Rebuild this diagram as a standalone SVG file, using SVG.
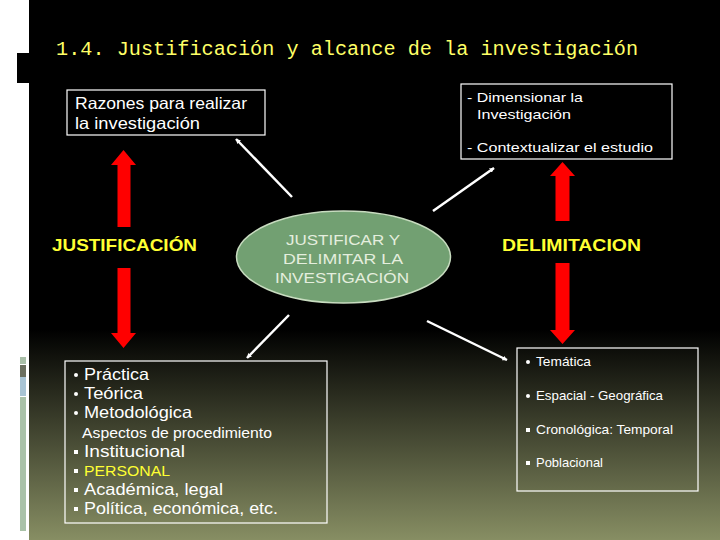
<svg xmlns="http://www.w3.org/2000/svg" width="720" height="540" viewBox="0 0 720 540">
<defs>
<linearGradient id="bg" x1="0" y1="0" x2="0" y2="540" gradientUnits="userSpaceOnUse">
<stop offset="0" stop-color="#000"/>
<stop offset="0.61" stop-color="#000"/>
<stop offset="1" stop-color="#878e63"/>
</linearGradient>
<marker id="wa" viewBox="0 0 10 10" refX="9" refY="5" markerWidth="5" markerHeight="5" orient="auto" markerUnits="userSpaceOnUse">
<path d="M0,0 L10,5 L0,10 z" fill="#fff"/>
</marker>
<style>
.t{font-family:"Liberation Sans",Arial,sans-serif;fill:#fff}
.box{fill:none;stroke:#fff;stroke-width:1.2}
.red{fill:#f00}
.wl{stroke:#fff;stroke-width:2.5;marker-end:url(#wa)}
.lbl{font-family:"Liberation Sans",Arial,sans-serif;font-weight:bold;fill:#ffff33;font-size:17px}
</style>
</defs>
<rect width="720" height="540" fill="#fff"/>
<rect x="29" y="0" width="691" height="540" fill="url(#bg)"/>
<rect x="17" y="53" width="12" height="30" fill="#000"/>
<rect x="20" y="357" width="6" height="7" fill="#a9bfa8"/>
<rect x="20" y="365" width="6" height="12" fill="#6b6f5f"/>
<rect x="20" y="377" width="6" height="19" fill="#a8c4d4"/>
<rect x="20" y="397" width="6" height="134" fill="#a9c2a8"/>
<text x="56" y="55" font-family="Liberation Mono,monospace" font-size="20" fill="#ffff66" textLength="582" lengthAdjust="spacingAndGlyphs">1.4. Justificación y alcance de la investigación</text>

<g id="razones">
<rect class="box" x="67" y="90" width="198" height="45"/>
<text class="t" x="75" y="109" font-size="16.5" textLength="172" lengthAdjust="spacingAndGlyphs">Razones para realizar</text>
<text class="t" x="75" y="129" font-size="16.5" textLength="125" lengthAdjust="spacingAndGlyphs">la investigación</text>
</g>
<g id="dimensionar">
<rect class="box" x="461" y="84" width="211" height="75"/>
<text class="t" x="467" y="102" font-size="13.5" textLength="116" lengthAdjust="spacingAndGlyphs">- Dimensionar la</text>
<text class="t" x="477" y="119" font-size="13.5" textLength="94" lengthAdjust="spacingAndGlyphs">Investigación</text>
<text class="t" x="467" y="152" font-size="13.5" textLength="186" lengthAdjust="spacingAndGlyphs">- Contextualizar el estudio</text>
</g>
<g id="centro">
<ellipse cx="343.5" cy="257" rx="107" ry="46" fill="#72a072" stroke="#c8dcc0" stroke-width="1.5"/>
<text x="286" y="245" font-family="Liberation Sans,Arial,sans-serif" font-size="15.5" fill="#e4eede" textLength="114" lengthAdjust="spacingAndGlyphs">JUSTIFICAR Y</text>
<text x="283" y="264" font-family="Liberation Sans,Arial,sans-serif" font-size="15.5" fill="#e4eede" textLength="120" lengthAdjust="spacingAndGlyphs">DELIMITAR LA</text>
<text x="275" y="283" font-family="Liberation Sans,Arial,sans-serif" font-size="15.5" fill="#e4eede" textLength="134" lengthAdjust="spacingAndGlyphs">INVESTIGACIÓN</text>
</g>
<g id="justificacion">
<text class="lbl" x="52" y="251" textLength="145" lengthAdjust="spacingAndGlyphs">JUSTIFICACIÓN</text>
</g>
<g id="delimitacion">
<text class="lbl" x="502" y="251" textLength="139" lengthAdjust="spacingAndGlyphs">DELIMITACION</text>
</g>
<g id="justif-list">
<rect class="box" x="65" y="361" width="262" height="162"/>
<g class="t" font-size="16.5">
<circle cx="76" cy="375" r="2" fill="#fff"/><text x="84" y="380" textLength="65" lengthAdjust="spacingAndGlyphs">Práctica</text>
<circle cx="76" cy="394" r="2" fill="#fff"/><text x="84" y="399" textLength="59" lengthAdjust="spacingAndGlyphs">Teórica</text>
<circle cx="76" cy="413" r="2" fill="#fff"/><text x="84" y="418" textLength="108" lengthAdjust="spacingAndGlyphs">Metodológica</text>
<text x="82" y="438" font-size="14.5" textLength="190" lengthAdjust="spacingAndGlyphs">Aspectos de procedimiento</text>
<rect x="74" y="450" width="4" height="4" fill="#fff"/><text x="84" y="457" textLength="101" lengthAdjust="spacingAndGlyphs">Institucional</text>
<rect x="74" y="469" width="4" height="4" fill="#fff"/><text x="84" y="476" fill="#ffff33" font-size="15.5" textLength="86" lengthAdjust="spacingAndGlyphs">PERSONAL</text>
<rect x="74" y="488" width="4" height="4" fill="#fff"/><text x="84" y="495" textLength="139" lengthAdjust="spacingAndGlyphs">Académica,  legal</text>
<rect x="74" y="507" width="4" height="4" fill="#fff"/><text x="84" y="514" textLength="194" lengthAdjust="spacingAndGlyphs">Política, económica, etc.</text>
</g>
</g>
<g id="delim-list">
<rect class="box" x="517" y="348" width="181" height="143"/>
<g class="t" font-size="13.5">
<circle cx="528" cy="362" r="2" fill="#fff"/><text x="536" y="366" textLength="55" lengthAdjust="spacingAndGlyphs">Temática</text>
<circle cx="528" cy="396" r="2" fill="#fff"/><text x="536" y="400" textLength="127" lengthAdjust="spacingAndGlyphs">Espacial - Geográfica</text>
<rect x="526" y="428" width="4" height="4" fill="#fff"/><text x="536" y="434" textLength="137" lengthAdjust="spacingAndGlyphs">Cronológica: Temporal</text>
<rect x="526" y="461" width="4" height="4" fill="#fff"/><text x="536" y="467" textLength="67" lengthAdjust="spacingAndGlyphs">Poblacional</text>
</g>
</g>
<g id="connectors">
<path class="red" d="M123.5,150 L136,165 L130.5,165 L130.5,227 L117.5,227 L117.5,165 L111,165 Z"/>
<path class="red" d="M123.5,348 L136,333 L130.5,333 L130.5,268 L117.5,268 L117.5,333 L111,333 Z"/>
<path class="red" d="M562.5,162 L575,176 L569.5,176 L569.5,221 L555.5,221 L555.5,176 L550,176 Z"/>
<path class="red" d="M562.5,344 L575,330 L569.5,330 L569.5,263 L555.5,263 L555.5,330 L550,330 Z"/>
<line class="wl" x1="292" y1="197" x2="236" y2="139"/>
<line class="wl" x1="433" y1="211" x2="494" y2="168"/>
<line class="wl" x1="289" y1="315" x2="247" y2="358"/>
<line class="wl" x1="427" y1="321" x2="507" y2="360"/>
</g>
</svg>
